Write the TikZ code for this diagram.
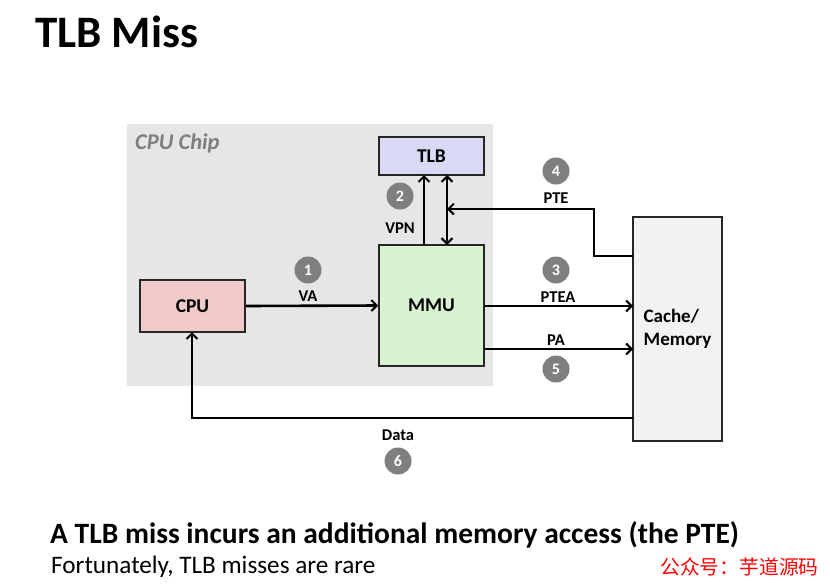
\documentclass[tikz,border=0pt]{standalone}
\usepackage{fontspec}
\setmainfont{Carlito}
\newfontfamily\cjk{Noto Sans CJK SC}
\usetikzlibrary{arrows.meta}
\definecolor{chipgray}{HTML}{E6E6E6}
\definecolor{tlbfill}{HTML}{D9D9F5}
\definecolor{mmufill}{HTML}{D9F2D0}
\definecolor{cpufill}{HTML}{F0C9C9}
\definecolor{memfill}{HTML}{F2F2F2}
\definecolor{stepgray}{HTML}{7F7F7F}
\definecolor{chiptext}{HTML}{7F7F7F}
\tikzset{
  unitbox/.style={draw=black!85, line width=1.5pt, inner sep=0pt, font=\bfseries\fontsize{19.5}{22}\selectfont},
  conn/.style={line width=2.6pt, -{Straight Barb[length=5.5pt,width=11pt,line width=2pt]}},
  lbl/.style={font=\bfseries\fontsize{16.5}{18}\selectfont, inner sep=0pt},
  stepnum/.style={circle, fill=stepgray, minimum size=27pt, inner sep=0pt, text=white, font=\bfseries\fontsize{16}{18}\selectfont}
}
\begin{document}
\begin{tikzpicture}[x=1pt,y=-1pt]
\useasboundingbox[fill=white] (0,0) rectangle (830,587);
% title
\node[anchor=base west, inner sep=0pt, font=\bfseries\fontsize{45}{50}\selectfont] (title) at (35,47) {TLB Miss};
% chip
\fill[chipgray] (127,124) rectangle (493,386);
\node[anchor=base west, inner sep=0pt, text=chiptext, font=\bfseries\itshape\fontsize{22.5}{26}\selectfont] (chip) at (135,149) {CPU Chip};
% boxes
\node[unitbox, fill=tlbfill, minimum width=105pt, minimum height=38pt] (tlb) at (431.5,156) {TLB};
\node[unitbox, fill=mmufill, minimum width=105pt, minimum height=121pt] (mmu) at (431.5,305.5) {MMU};
\node[unitbox, fill=cpufill, minimum width=105pt, minimum height=52pt] (cpu) at (192.5,306) {CPU};
\node[unitbox, fill=memfill, minimum width=89pt, minimum height=224pt, align=left, font=\bfseries\fontsize{19}{23}\selectfont] (mem) at (677.5,329) {Cache/\\Memory};
% coordinates
\coordinate (vpnb) at (424,245);
\coordinate (vpnt) at (424,175);
\coordinate (dbb) at (447,245);
\coordinate (dbt) at (447,175);
\coordinate (pteA) at (633,256);
\coordinate (pteB) at (594,256);
\coordinate (pteC) at (594,209);
\coordinate (pteD) at (447,209);
\coordinate (pteaA) at (484,306);
\coordinate (pteaB) at (633,306);
\coordinate (paA) at (484,349);
\coordinate (paB) at (633,349);
\coordinate (dA) at (633,418);
\coordinate (dB) at (192,418);
\coordinate (dC) at (192,332);
% connectors
\draw[conn] (cpu.east) -- (mmu.west);
\draw[conn] (vpnb) -- (vpnt);
\draw[conn, {Straight Barb[length=5.5pt,width=11pt,line width=2pt]}-{Straight Barb[length=5.5pt,width=11pt,line width=2pt]}] (dbb) -- (dbt);
\draw[conn] (pteA) -- (pteB) -- (pteC) -- (pteD);
\draw[conn] (pteaA) -- (pteaB);
\draw[conn] (paA) -- (paB);
\draw[conn] (dA) -- (dB) -- (dC);
% labels
\node[lbl] (lva) at (308,296) {VA};
\node[stepnum] (s1) at (308,270) {1};
\node[lbl] (lvpn) at (400,228) {VPN};
\node[stepnum] (s2) at (400,196) {2};
\node[lbl] (lpte) at (556,198) {PTE};
\node[stepnum] (s4) at (556,171) {4};
\node[lbl] (lptea) at (558,297) {PTEA};
\node[stepnum] (s3) at (556,270) {3};
\node[lbl] (lpa) at (556,340) {PA};
\node[stepnum] (s5) at (556,369) {5};
\node[lbl] (ldata) at (398,435) {Data};
\node[stepnum] (s6) at (398,461) {6};
% bottom text
\node[anchor=base west, inner sep=0pt, font=\bfseries\fontsize{29.5}{32}\selectfont] (main) at (50,543) {A TLB miss incurs an additional memory access (the PTE)};
\node[anchor=base west, inner sep=0pt, font=\fontsize{25.2}{28}\selectfont] (sub) at (51,573) {Fortunately, TLB misses are rare};
\node[anchor=base west, inner sep=0pt, text=red, font=\cjk\fontsize{19.8}{22}\selectfont] (wm) at (660,574) {公众号：芋道源码};
\end{tikzpicture}
\end{document}
